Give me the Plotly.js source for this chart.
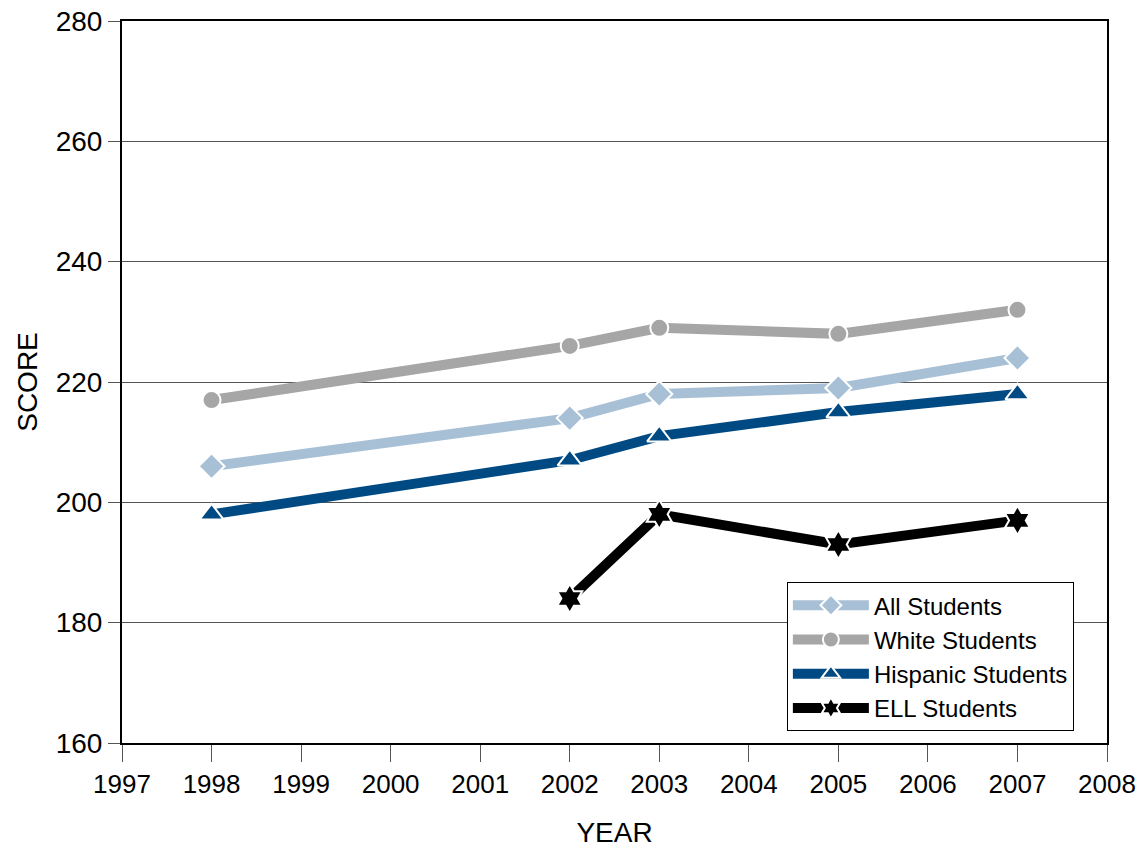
<!DOCTYPE html>
<html><head><meta charset="utf-8">
<script src="https://cdn.plot.ly/plotly-3.0.1.min.js"></script>
<style>body{margin:0;background:#fff}#c{width:1146px;height:849px}</style>
</head><body><div id="c"></div>
<script>
const years = [1998, 2002, 2003, 2005, 2007];
const allStudents = [206, 214, 218, 219, 224];
const whiteStudents = [217, 226, 229, 228, 232];
const hispanicStudents = [198, 207, 211, 215, 218];
const ellYears = [2002, 2003, 2005, 2007];
const ellStudents = [184, 198, 193, 197];
const xTicks = [1997,1998,1999,2000,2001,2002,2003,2004,2005,2006,2007,2008];
const yTicks = [160,180,200,220,240,260,280];

function tr(name, x, y, color, symbol, size){
  return {x:x, y:y, name:name, type:'scatter', mode:'lines+markers',
    line:{color:color, width:10},
    marker:{symbol:symbol, size:size, color:color, line:{color:'#ffffff', width:2}}};
}
const data = [
  tr('All Students', years, allStudents, '#a8c0d6', 'diamond', 20),
  tr('White Students', years, whiteStudents, '#a6a6a6', 'circle', 18),
  tr('Hispanic Students', years, hispanicStudents, '#004a84', 'triangle-up', 21),
  tr('ELL Students', ellYears, ellStudents, '#000000', 'hexagram', 22)
];
const font = {family:'Liberation Sans, Arial, sans-serif', color:'#000'};
const layout = {
  width:1146, height:849,
  margin:{l:122, r:39, t:21, b:106},
  paper_bgcolor:'#fff', plot_bgcolor:'#fff',
  font:font,
  showlegend:true,
  legend:{x:0.675, y:0.2227, xanchor:'left', yanchor:'top', bgcolor:'#fff',
    bordercolor:'#000', borderwidth:1, font:{size:24, family:font.family, color:'#000'},
    tracegroupgap:0, itemwidth:76},
  xaxis:{range:[1997,2008], tickvals:xTicks, ticktext:xTicks.map(String),
    ticks:'outside', ticklen:17, tickcolor:'#555', tickwidth:1,
    showgrid:false, zeroline:false, showline:true, linecolor:'#000', linewidth:2, mirror:true,
    tickfont:{size:26}, title:{text:'YEAR', font:{size:28}, standoff:24}},
  yaxis:{range:[160,280], tickvals:yTicks, ticks:'outside', ticklen:12, tickcolor:'#555',
    showgrid:true, gridcolor:'#555', gridwidth:1, zeroline:false,
    showline:true, linecolor:'#000', linewidth:2, mirror:true,
    tickfont:{size:28}, title:{text:'SCORE', font:{size:28}, standoff:10}}
};
Plotly.newPlot('c', data, layout, {displayModeBar:false, staticPlot:true});
</script></body></html>
